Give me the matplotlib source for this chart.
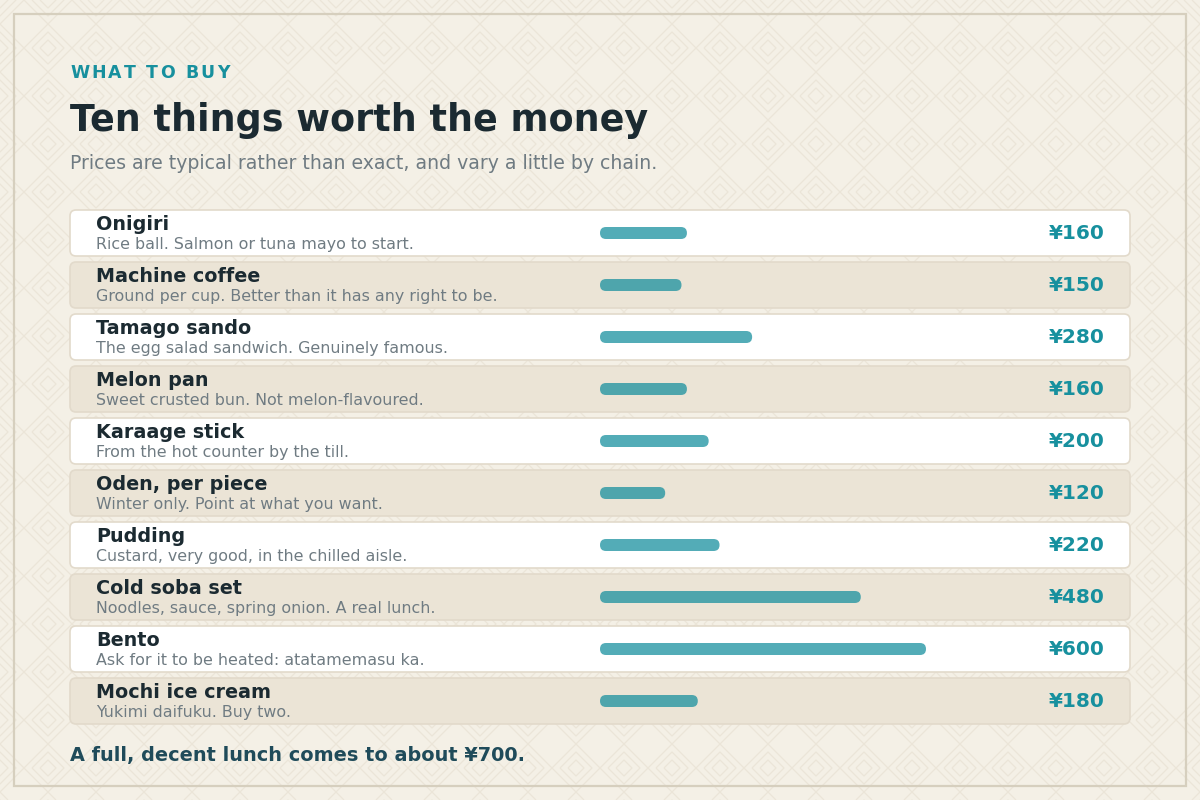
import matplotlib
matplotlib.use("Agg")
import matplotlib.pyplot as plt
from matplotlib.patches import FancyBboxPatch, Rectangle
from matplotlib.collections import LineCollection

# data
items = ["Onigiri", "Machine coffee", "Tamago sando", "Melon pan", "Karaage stick",
         "Oden, per piece", "Pudding", "Cold soba set", "Bento", "Mochi ice cream"]
notes = ["Rice ball. Salmon or tuna mayo to start.",
         "Ground per cup. Better than it has any right to be.",
         "The egg salad sandwich. Genuinely famous.",
         "Sweet crusted bun. Not melon-flavoured.",
         "From the hot counter by the till.",
         "Winter only. Point at what you want.",
         "Custard, very good, in the chilled aisle.",
         "Noodles, sauce, spring onion. A real lunch.",
         "Ask for it to be heated: atatamemasu ka.",
         "Yukimi daifuku. Buy two."]
prices = [160, 150, 280, 160, 200, 120, 220, 480, 600, 180]

kicker = "WHAT TO BUY"
title = "Ten things worth the money"
subtitle = "Prices are typical rather than exact, and vary a little by chain."
footer = "A full, decent lunch comes to about \u00a5700."

# colours
BG = "#f4f0e6"
PATTERN = "#ebe5d8"
FRAME = "#d6cfbe"
ROW_W = "#ffffff"
ROW_B = "#ebe4d6"
ROW_EDGE = "#e2dacb"
TEAL = "#17909e"
DARK = "#1b2a31"
GREY = "#6f7b82"
FOOT = "#1f4b5a"

plt.rcParams['font.family'] = ['DejaVu Sans']

W, H = 1200, 800
fig = plt.figure(figsize=(12, 8), dpi=100)
fig.patch.set_facecolor(BG)

ax = fig.add_axes([0, 0, 1, 1])
ax.set_xlim(0, W)
ax.set_ylim(H, 0)
ax.axis('off')

# background diamond pattern
segs = []
step = 48
for k in range(-20, 45):
    c = step * k + 24
    segs.append([(c, 0), (c - H, H)])
    segs.append([(c, 0), (c + H, H)])
for cx in range(0, W + step, step):
    for cy in range(0, H + step, step):
        for r in (16, 8):
            segs.append([(cx - r, cy), (cx, cy - r), (cx + r, cy), (cx, cy + r), (cx - r, cy)])
ax.add_collection(LineCollection(segs, colors=PATTERN, linewidths=0.9, zorder=0))

# frame
ax.add_patch(Rectangle((14, 14), 1172, 772, fill=False, ec=FRAME, lw=1.6, zorder=1))

# header
renderer = fig.canvas.get_renderer()
x = 70
for ch in kicker:
    t = ax.text(x, 78, ch, fontsize=12.5, fontweight='bold', color=TEAL, va='baseline', ha='left')
    x += t.get_window_extent(renderer).width + 2.2

ax.text(70, 131, title, fontsize=26.3, fontweight='bold', color=DARK, va='baseline')
ax.text(70, 169, subtitle, fontsize=13.6, color=GREY, va='baseline')

# rows
row_top, pitch, row_h = 210, 52, 46
for i, (name, note, p) in enumerate(zip(items, notes, prices)):
    top = row_top + pitch * i
    ax.add_patch(FancyBboxPatch((70, top), 1060, row_h,
                                boxstyle="round,pad=0,rounding_size=6",
                                fc=ROW_W if i % 2 == 0 else ROW_B, ec=ROW_EDGE, lw=1.2, zorder=2))
    ax.text(96, top + 20.5, name, fontsize=13.8, fontweight='bold', color=DARK, va='baseline', zorder=3)
    ax.text(96, top + 39, note, fontsize=11.4, color=GREY, va='baseline', zorder=3)
    ax.text(1105, top + 29, "\u00a5%d" % p, fontsize=14.5, fontweight='bold', color=TEAL,
            ha='right', va='baseline', zorder=3)

ax.text(70, 761, footer, fontsize=13.85, fontweight='bold', color=FOOT, va='baseline')

# bars
bar_left, bar_px, bar_max = 600, 326, 600
area_top = row_top - 3
bax = fig.add_axes([bar_left / W, 1 - (area_top + pitch * len(items)) / H,
                    bar_px / W, pitch * len(items) / H])
bax.set_xlim(0, bar_max)
bax.set_ylim(len(items) - 0.5, -0.5)
bax.axis('off')
bax.patch.set_alpha(0)

xpx = bar_px / bar_max
bh = 12 / pitch
for i, p in enumerate(prices):
    bax.add_patch(FancyBboxPatch((0, i - bh / 2), p, bh,
                                 boxstyle="round,pad=0,rounding_size=%f" % (6 / xpx),
                                 mutation_aspect=xpx / pitch,
                                 fc=TEAL, alpha=0.74, lw=0))

fig.savefig("out.png", dpi=100, facecolor=BG)
